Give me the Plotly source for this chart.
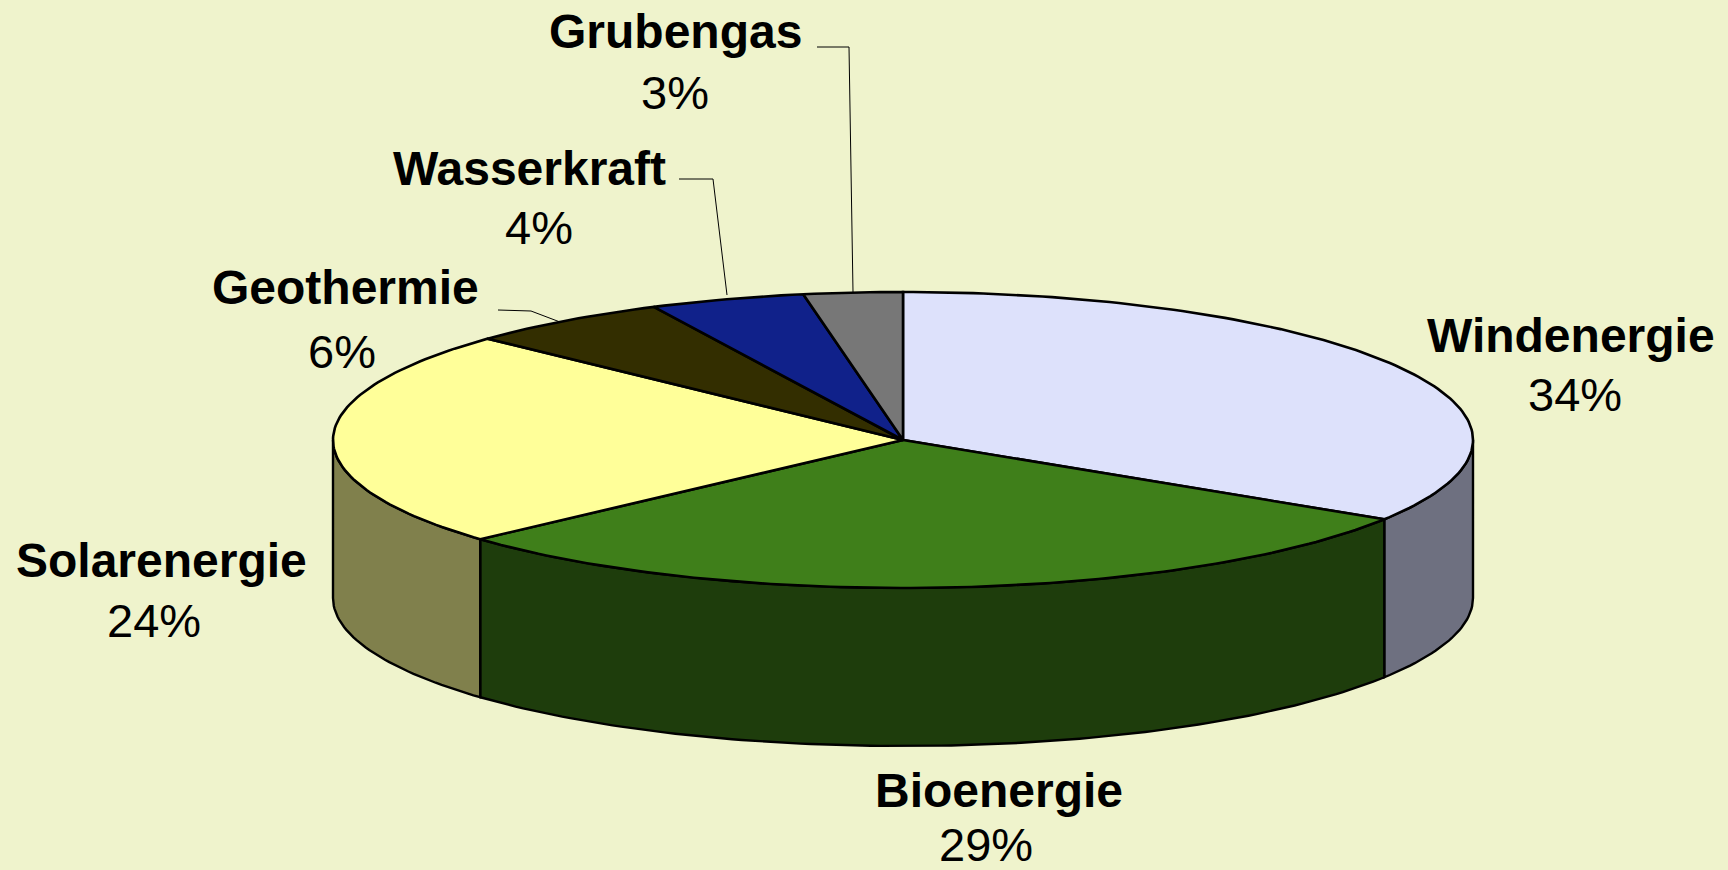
import numpy as np
import plotly.graph_objects as go

# --- data -------------------------------------------------------------
categories = ["Windenergie", "Bioenergie", "Solarenergie", "Geothermie", "Wasserkraft", "Grubengas"]
values = [34.0, 29.3, 23.7, 5.8, 4.4, 2.8]
top_colors = ["#DDE1FB", "#3F7F1A", "#FFFF99", "#332E00", "#10218A", "#777777"]
side_colors = ["#6E7080", "#1E3D0C", "#80804C", "#1A1700", "#081145", "#3C3C3C"]

# --- layout geometry (pixels of the 1728x870 page) ----------------------
W, H = 1728, 870
BG = "#EFF3CC"
CX, CY, RX, RY, DEPTH = 903, 440, 570, 148, 158
label_centres = {
    "Windenergie": (1571, 335, 394),
    "Bioenergie": (999, 790, 844),
    "Solarenergie": (161, 560, 620),
    "Geothermie": (345, 287, 351),
    "Wasserkraft": (529, 168, 227),
    "Grubengas": (675, 31, 92),
}
pct_x_offset = {"Windenergie": 4, "Bioenergie": -13, "Solarenergie": -7, "Geothermie": -3, "Wasserkraft": 10, "Grubengas": 0}
leaders = {
    "Geothermie": ([498, 531, 560], [310, 311, 322]),
    "Wasserkraft": ([679, 713, 727], [179, 179, 295]),
    "Grubengas": ([817, 849, 853], [47, 47, 292]),
}


def ellipse_xy(deg, dy=0.0):
    """deg is measured clockwise from the top of the pie."""
    r = np.radians(deg)
    return CX + RX * np.sin(r), CY - RY * np.cos(r) + dy


fractions = np.array(values, dtype=float) / sum(values)
edges = np.concatenate([[0.0], np.cumsum(fractions) * 360.0])

fig = go.Figure()

# Side wall: only the front half of the rim (90..270 degrees) is visible.
for i, name in enumerate(categories):
    a0, a1 = max(edges[i], 90.0), min(edges[i + 1], 270.0)
    if a1 <= a0:
        continue
    t = np.linspace(a0, a1, max(int(a1 - a0), 2))
    xu, yu = ellipse_xy(t)
    xl, yl = ellipse_xy(t[::-1], DEPTH)
    fig.add_trace(go.Scatter(
        x=np.r_[xu, xl, xu[0]], y=np.r_[yu, yl, yu[0]],
        mode="lines", fill="toself", fillcolor=side_colors[i],
        line=dict(color="black", width=2.4), name=name + " side",
        hoverinfo="skip", showlegend=False,
    ))

# Top face.
for i, name in enumerate(categories):
    t = np.linspace(edges[i], edges[i + 1], max(int(edges[i + 1] - edges[i]), 2))
    x, y = ellipse_xy(t)
    fig.add_trace(go.Scatter(
        x=np.r_[CX, x, CX], y=np.r_[CY, y, CY],
        mode="lines", fill="toself", fillcolor=top_colors[i],
        line=dict(color="black", width=2.6), name=name,
        hoverinfo="skip", showlegend=False,
    ))

# Leader lines.
for name, (lx, ly) in leaders.items():
    fig.add_trace(go.Scatter(
        x=lx, y=ly, mode="lines", line=dict(color="black", width=1),
        hoverinfo="skip", showlegend=False,
    ))

# Labels.
annotations = []
for name, val in zip(categories, values):
    x, y1, y2 = label_centres[name]
    annotations.append(dict(
        x=x, y=y1, text=f"<b>{name}</b>", showarrow=False, xanchor="center", yanchor="middle",
        font=dict(family="Liberation Sans", size=48, color="black"),
    ))
    annotations.append(dict(
        x=x + pct_x_offset[name], y=y2, text=f"{round(val)}%", showarrow=False, xanchor="center", yanchor="middle",
        font=dict(family="Liberation Sans", size=47, color="black"),
    ))

fig.update_layout(
    width=W, height=H, margin=dict(l=0, r=0, t=0, b=0),
    paper_bgcolor=BG, plot_bgcolor=BG, showlegend=False, annotations=annotations,
    xaxis=dict(range=[0, W], visible=False, fixedrange=True),
    yaxis=dict(range=[H, 0], visible=False, fixedrange=True),
)

fig.write_html(
    "out.html",
    config=dict(displayModeBar=False),
    post_script="document.body.style.margin='0';document.body.style.overflow='hidden';document.body.style.background='#EFF3CC';",
)
